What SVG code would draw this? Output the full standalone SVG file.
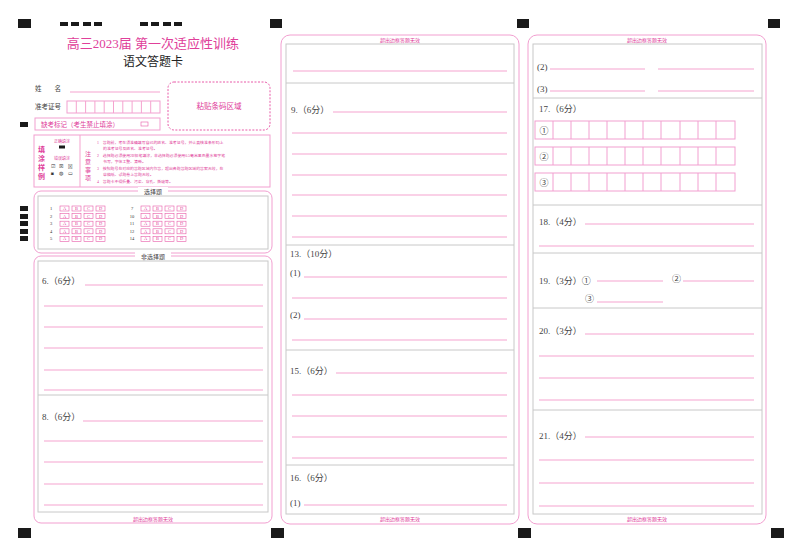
<svg xmlns="http://www.w3.org/2000/svg" width="800" height="558" viewBox="0 0 800 558">
<style>
text{font-family:"Liberation Serif","Noto Sans CJK SC",serif;}
.pt{fill:#e0409a}
.dk{fill:#444}
.ln{stroke:#f5a3cf;stroke-width:1}
.ob{fill:none;stroke:#f29fd0;stroke-width:1}
.ib{fill:none;stroke:#c8c8c8;stroke-width:1}
.bk{fill:#1a1a1a}
.opt{fill:none;stroke:#e85aa8;stroke-width:0.6}
.ot{font-size:4.5px;fill:#e0409a;text-anchor:middle}
.q{font-size:9px;fill:#444}
</style>
<rect width="800" height="558" fill="#fff"/>
<g id="markers">
<rect class="bk" x="18" y="19" width="13" height="9"/>
<rect class="bk" x="270" y="19" width="12" height="9"/>
<rect class="bk" x="517" y="19" width="12" height="9"/>
<rect class="bk" x="768" y="19" width="12" height="9"/>
<rect class="bk" x="60" y="22" width="8" height="4"/><rect class="bk" x="71" y="22" width="8" height="4"/><rect class="bk" x="83" y="22" width="8" height="4"/><rect class="bk" x="94" y="22" width="8" height="4"/>
<rect class="bk" x="140" y="22" width="8" height="4"/><rect class="bk" x="151" y="22" width="8" height="4"/><rect class="bk" x="163" y="22" width="8" height="4"/><rect class="bk" x="174" y="22" width="8" height="4"/>
<rect class="bk" x="18" y="528" width="13" height="10"/>
<rect class="bk" x="271" y="528" width="13" height="10"/>
<rect class="bk" x="518" y="528" width="13" height="10"/>
<rect class="bk" x="771" y="528" width="13" height="10"/>
<rect class="bk" x="20" y="122" width="8" height="5"/>
<rect class="bk" x="20" y="206" width="8" height="5"/><rect class="bk" x="20" y="214" width="8" height="5"/><rect class="bk" x="20" y="221" width="8" height="5"/><rect class="bk" x="20" y="229" width="8" height="5"/><rect class="bk" x="20" y="236" width="8" height="5"/>
</g>
<g id="header">
<text x="153" y="48" font-size="13" class="pt" text-anchor="middle" font-family="Noto Sans CJK SC,sans-serif">高三2023届  第一次适应性训练</text>
<text x="153" y="66" font-size="12" fill="#222" text-anchor="middle" font-family="Noto Sans CJK SC,sans-serif">语文答题卡</text>
</g>
<g id="info">
<text x="35" y="91" font-size="6.5" class="dk">姓　　名</text>
<line x1="70" y1="92" x2="160" y2="92" class="ln"/>
<text x="35" y="109" font-size="6.5" class="dk">准考证号</text>
<rect x="67" y="101" width="93" height="12" class="ob"/>
<g class="ln"><line x1="76.3" y1="101" x2="76.3" y2="113"/><line x1="85.6" y1="101" x2="85.6" y2="113"/><line x1="94.9" y1="101" x2="94.9" y2="113"/><line x1="104.2" y1="101" x2="104.2" y2="113"/><line x1="113.5" y1="101" x2="113.5" y2="113"/><line x1="122.8" y1="101" x2="122.8" y2="113"/><line x1="132.1" y1="101" x2="132.1" y2="113"/><line x1="141.4" y1="101" x2="141.4" y2="113"/><line x1="150.7" y1="101" x2="150.7" y2="113"/></g>
<rect x="35" y="118" width="125" height="12" class="ob"/>
<text x="41" y="127" font-size="6.5" class="pt">缺考标记（考生禁止填涂）</text>
<rect x="141" y="122" width="7" height="4" class="opt"/>
</g>
<g id="barcode">
<rect x="168" y="82" width="102" height="48" rx="6" fill="none" stroke="#e85aa8" stroke-dasharray="2,1.5"/>
<text x="219" y="109" font-size="7.5" class="pt" text-anchor="middle">粘贴条码区域</text>
</g>
<g id="notes">
<rect x="34" y="135" width="236" height="52" class="ob"/>
<line x1="80" y1="135" x2="80" y2="187" class="ln"/>
<text font-size="7" class="pt" font-weight="bold"><tspan x="38" y="152">填</tspan><tspan x="38" y="161">涂</tspan><tspan x="38" y="170">样</tspan><tspan x="38" y="179">例</tspan></text>
<text x="62" y="143" font-size="4" class="pt" text-anchor="middle">正确填涂</text>
<rect x="59" y="145.5" width="6" height="3" class="bk"/>
<text x="62" y="160" font-size="4" class="pt" text-anchor="middle">错误填涂</text>
<g font-size="4.5" fill="#333"><text x="51" y="168">☑</text><text x="59" y="168">☒</text><text x="68" y="168">⊠</text><text x="51" y="175">◙</text><text x="59" y="175">◍</text><text x="68" y="175">▭</text></g>
<text font-size="6" class="pt"><tspan x="85" y="156">注</tspan><tspan x="85" y="164">意</tspan><tspan x="85" y="172">事</tspan><tspan x="85" y="180">项</tspan></text>
<g font-size="3.9" class="pt">
<text x="97" y="144">1　答题前，考生须准确填写自己的姓名、准考证号，并认真核准条形码上</text>
<text x="103" y="150">的准考证号及姓名、准考证号。</text>
<text x="97" y="157">2　选择题必须使用2B铅笔填涂，非选择题必须使用0.5毫米黑色墨水签字笔</text>
<text x="103" y="163">书写，字体工整、清晰。</text>
<text x="97" y="170">3　按照题号在对应的答题区域内作答，超出各题答题区域的答案无效，在</text>
<text x="103" y="176">草稿纸、试题卷上答题无效。</text>
<text x="97" y="183">4　答题卡不得折叠、污染、穿孔、撕破等。</text>
</g>
</g>
<g id="choice">
<rect x="34" y="191" width="238" height="62" rx="7" class="ob"/>
<rect x="38" y="196" width="230" height="53" class="ib"/>
<rect x="138" y="187" width="30" height="8" fill="#fff"/>
<text x="153" y="194" font-size="6" class="dk" text-anchor="middle">选择题</text>
<g font-size="4.5" fill="#333" text-anchor="middle">
<text x="51" y="210">1</text><text x="51" y="218">2</text><text x="51" y="225">3</text><text x="51" y="233">4</text><text x="51" y="240">5</text>
<text x="132" y="210">7</text><text x="132" y="218">10</text><text x="132" y="225">11</text><text x="132" y="233">12</text><text x="132" y="240">14</text>
</g>
<g id="opts">
<g id="row">
<rect x="60" y="206" width="9" height="5" class="opt"/><text x="64.5" y="210" class="ot">A</text>
<rect x="72" y="206" width="9" height="5" class="opt"/><text x="76.5" y="210" class="ot">B</text>
<rect x="84" y="206" width="9" height="5" class="opt"/><text x="88.5" y="210" class="ot">C</text>
<rect x="96" y="206" width="9" height="5" class="opt"/><text x="100.5" y="210" class="ot">D</text>
</g>
<use href="#row" y="7.6"/><use href="#row" y="15.2"/><use href="#row" y="22.8"/><use href="#row" y="30.4"/>
<use href="#row" x="81"/><use href="#row" x="81" y="7.6"/><use href="#row" x="81" y="15.2"/><use href="#row" x="81" y="22.8"/><use href="#row" x="81" y="30.4"/>
</g>
</g>
<g id="panel1">
<rect x="34" y="256" width="238" height="267" rx="7" class="ob"/>
<rect x="38" y="261" width="230" height="251" class="ib"/>
<rect x="135" y="252" width="36" height="8" fill="#fff"/>
<text x="153" y="259" font-size="6" class="dk" text-anchor="middle">非选择题</text>
<text x="153" y="521" font-size="5" class="pt" text-anchor="middle">超出边框答题无效</text>
<text x="42" y="284" class="q">6.（6分）</text>
<g class="ln"><line x1="85" y1="285" x2="263" y2="285"/><line x1="44" y1="306" x2="263" y2="306"/><line x1="44" y1="327" x2="263" y2="327"/><line x1="44" y1="348" x2="263" y2="348"/><line x1="44" y1="370" x2="263" y2="370"/><line x1="44" y1="390" x2="263" y2="390"/></g>
<line x1="38" y1="395" x2="268" y2="395" class="ib"/>
<text x="42" y="420" class="q">8.（6分）</text>
<g class="ln"><line x1="83" y1="421" x2="263" y2="421"/><line x1="44" y1="441" x2="263" y2="441"/><line x1="44" y1="462" x2="263" y2="462"/><line x1="44" y1="484" x2="263" y2="484"/><line x1="44" y1="505" x2="263" y2="505"/></g>
</g>
<g id="panel2">
<rect x="281" y="35" width="238" height="489" rx="9" class="ob"/>
<rect x="286" y="44" width="228" height="470" class="ib"/>
<text x="400" y="42" font-size="5" class="pt" text-anchor="middle">超出边框答题无效</text>
<text x="400" y="521" font-size="5" class="pt" text-anchor="middle">超出边框答题无效</text>
<line x1="293" y1="71" x2="507" y2="71" class="ln"/>
<line x1="286" y1="83" x2="514" y2="83" class="ib"/>
<text x="291" y="113" class="q">9.（6分）</text>
<g class="ln"><line x1="333" y1="112" x2="507" y2="112"/><line x1="292" y1="133" x2="507" y2="133"/><line x1="292" y1="154" x2="507" y2="154"/><line x1="292" y1="175" x2="507" y2="175"/><line x1="292" y1="195" x2="507" y2="195"/><line x1="292" y1="216" x2="507" y2="216"/><line x1="292" y1="237" x2="507" y2="237"/></g>
<line x1="286" y1="245" x2="514" y2="245" class="ib"/>
<text x="290" y="257" class="q">13.（10分）</text>
<text x="290" y="276" class="q">(1)</text>
<text x="290" y="318" class="q">(2)</text>
<g class="ln"><line x1="304" y1="277" x2="507" y2="277"/><line x1="292" y1="298" x2="507" y2="298"/><line x1="304" y1="319" x2="507" y2="319"/><line x1="292" y1="340" x2="507" y2="340"/></g>
<line x1="286" y1="350" x2="514" y2="350" class="ib"/>
<text x="290" y="374" class="q">15.（6分）</text>
<g class="ln"><line x1="336" y1="373" x2="507" y2="373"/><line x1="292" y1="395" x2="507" y2="395"/><line x1="292" y1="416" x2="507" y2="416"/><line x1="292" y1="437" x2="507" y2="437"/><line x1="292" y1="458" x2="507" y2="458"/></g>
<line x1="286" y1="465" x2="514" y2="465" class="ib"/>
<text x="290" y="481" class="q">16.（6分）</text>
<text x="290" y="506" class="q">(1)</text>
<line x1="304" y1="505" x2="507" y2="505" class="ln"/>
</g>
<g id="panel3">
<rect x="528" y="35" width="238" height="489" rx="9" class="ob"/>
<rect x="533" y="44" width="229" height="470" class="ib"/>
<text x="647" y="42" font-size="5" class="pt" text-anchor="middle">超出边框答题无效</text>
<text x="647" y="521" font-size="5" class="pt" text-anchor="middle">超出边框答题无效</text>
<text x="537" y="70" class="q">(2)</text>
<text x="537" y="92" class="q">(3)</text>
<g class="ln"><line x1="550" y1="69" x2="645" y2="69"/><line x1="658" y1="69" x2="754" y2="69"/><line x1="550" y1="91" x2="645" y2="91"/><line x1="658" y1="91" x2="754" y2="91"/></g>
<line x1="533" y1="98" x2="762" y2="98" class="ib"/>
<text x="539" y="112" class="q">17.（6分）</text>
<g id="grid1" class="ob">
<rect x="535" y="121" width="200" height="18"/>
<path d="M553 121V139M571 121V139M589 121V139M607 121V139M625 121V139M643 121V139M661 121V139M680 121V139M698 121V139M716 121V139"/>
</g>
<use href="#grid1" y="26"/><use href="#grid1" y="52"/>
<g font-size="9" fill="#444" text-anchor="middle"><text x="544" y="134">①</text><text x="544" y="160">②</text><text x="544" y="186">③</text></g>
<line x1="533" y1="205" x2="762" y2="205" class="ib"/>
<text x="539" y="225" class="q">18.（4分）</text>
<g class="ln"><line x1="585" y1="224" x2="754" y2="224"/><line x1="539" y1="246" x2="754" y2="246"/></g>
<line x1="533" y1="253" x2="762" y2="253" class="ib"/>
<text x="539" y="284" class="q">19.（3分）①</text>
<text x="672" y="282" class="q">②</text>
<text x="585" y="302" class="q">③</text>
<g class="ln"><line x1="597" y1="281" x2="663" y2="281"/><line x1="683" y1="281" x2="754" y2="281"/><line x1="597" y1="302" x2="663" y2="302"/></g>
<line x1="533" y1="308" x2="762" y2="308" class="ib"/>
<text x="539" y="334" class="q">20.（3分）</text>
<g class="ln"><line x1="585" y1="334" x2="754" y2="334"/><line x1="539" y1="356" x2="754" y2="356"/><line x1="539" y1="378" x2="754" y2="378"/><line x1="539" y1="400" x2="754" y2="400"/></g>
<line x1="533" y1="410" x2="762" y2="410" class="ib"/>
<text x="539" y="439" class="q">21.（4分）</text>
<g class="ln"><line x1="585" y1="437" x2="754" y2="437"/><line x1="539" y1="460" x2="754" y2="460"/><line x1="539" y1="483" x2="754" y2="483"/><line x1="539" y1="506" x2="754" y2="506"/></g>
</g>
</svg>
